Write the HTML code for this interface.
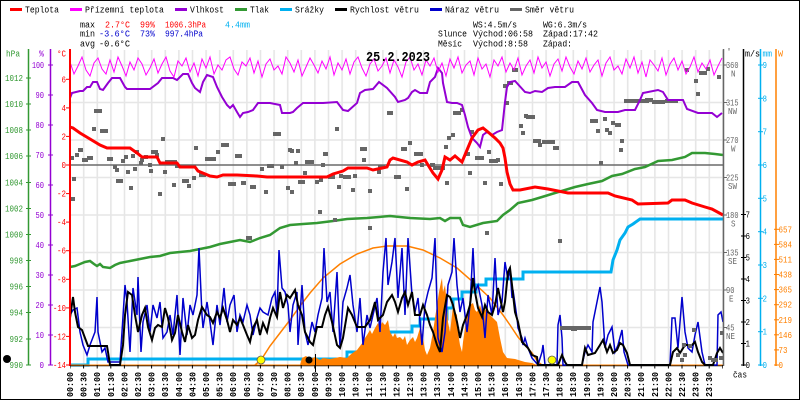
<!DOCTYPE html>
<html><head><meta charset="utf-8">
<style>
html,body{margin:0;padding:0;background:#fff;}
svg{display:block;}
text{font-family:"Liberation Mono",monospace;font-size:9px;}
.b{font-weight:bold;}
</style></head><body>
<svg width="800" height="400" viewBox="0 0 800 400" xmlns="http://www.w3.org/2000/svg">
<defs>
<pattern id="vg" x="69.3" y="0" width="13.6" height="400" patternUnits="userSpaceOnUse"><rect x="0" y="0" width="1.6" height="400" fill="#e6e6e6"/></pattern>
<pattern id="xt" x="69.5" y="0" width="13.6" height="400" patternUnits="userSpaceOnUse"><rect x="0" y="0" width="1" height="400" fill="#000"/></pattern>
</defs>
<rect x="0" y="0" width="800" height="400" fill="#fff"/>
<rect x="0.5" y="0.5" width="799" height="399" fill="none" stroke="#000" stroke-width="1"/>

<!-- legend -->
<rect x="10" y="8" width="12" height="3" fill="#ff0000"/><text x="25" y="12.5" textLength="34" lengthAdjust="spacingAndGlyphs">Teplota</text>
<rect x="70" y="8" width="12" height="3" fill="#ff00ff"/><text x="85" y="12.5" textLength="79" lengthAdjust="spacingAndGlyphs">Přízemní teplota</text>
<rect x="175" y="8" width="12" height="3" fill="#9400d3"/><text x="190" y="12.5" textLength="34" lengthAdjust="spacingAndGlyphs">Vlhkost</text>
<rect x="235" y="8" width="12" height="3" fill="#339933"/><text x="250" y="12.5" textLength="19" lengthAdjust="spacingAndGlyphs">Tlak</text>
<rect x="280" y="8" width="12" height="3" fill="#00b0f0"/><text x="295" y="12.5" textLength="29" lengthAdjust="spacingAndGlyphs">Srážky</text>
<rect x="335" y="8" width="12" height="3" fill="#000"/><text x="350" y="12.5" textLength="69" lengthAdjust="spacingAndGlyphs">Rychlost větru</text>
<rect x="430" y="8" width="12" height="3" fill="#0000cc"/><text x="445" y="12.5" textLength="54" lengthAdjust="spacingAndGlyphs">Náraz větru</text>
<rect x="510" y="8" width="12" height="3" fill="#666"/><text x="525" y="12.5" textLength="49" lengthAdjust="spacingAndGlyphs">Směr větru</text>

<!-- stats -->
<text x="80" y="27.3" textLength="15" lengthAdjust="spacingAndGlyphs">max</text>
<text x="105" y="27.3" fill="#ff0000" textLength="25" lengthAdjust="spacingAndGlyphs">2.7°C</text>
<text x="140" y="27.3" fill="#ff0000" textLength="15" lengthAdjust="spacingAndGlyphs">99%</text>
<text x="165" y="27.3" fill="#ff0000" textLength="41" lengthAdjust="spacingAndGlyphs">1006.3hPa</text>
<text x="225" y="27.3" fill="#00b0f0" textLength="25" lengthAdjust="spacingAndGlyphs">4.4mm</text>
<text x="80" y="36.7" textLength="15" lengthAdjust="spacingAndGlyphs">min</text>
<text x="99" y="36.7" fill="#0000cc" textLength="31" lengthAdjust="spacingAndGlyphs">-3.6°C</text>
<text x="140" y="36.7" fill="#0000cc" textLength="15" lengthAdjust="spacingAndGlyphs">73%</text>
<text x="165" y="36.7" fill="#0000cc" textLength="38" lengthAdjust="spacingAndGlyphs">997.4hPa</text>
<text x="80" y="46.5" textLength="15" lengthAdjust="spacingAndGlyphs">avg</text>
<text x="99" y="46.5" textLength="31" lengthAdjust="spacingAndGlyphs">-0.6°C</text>

<text x="473" y="27.3" textLength="44" lengthAdjust="spacingAndGlyphs">WS:4.5m/s</text>
<text x="543" y="27.3" textLength="44" lengthAdjust="spacingAndGlyphs">WG:6.3m/s</text>
<text x="438" y="36.7" textLength="29" lengthAdjust="spacingAndGlyphs">Slunce</text>
<text x="473" y="36.7" textLength="60" lengthAdjust="spacingAndGlyphs">Východ:06:58</text>
<text x="543" y="36.7" textLength="55" lengthAdjust="spacingAndGlyphs">Západ:17:42</text>
<text x="438" y="46.5" textLength="24" lengthAdjust="spacingAndGlyphs">Měsíc</text>
<text x="473" y="46.5" textLength="55" lengthAdjust="spacingAndGlyphs">Východ:8:58</text>
<text x="543" y="46.5" textLength="29" lengthAdjust="spacingAndGlyphs">Západ:</text>

<!-- grid -->
<rect x="71" y="50" width="652" height="315" fill="url(#vg)"/>
<g stroke="#e6e6e6" stroke-width="1.6">
<line x1="70" y1="65" x2="723" y2="65"/>
<line x1="70" y1="102.5" x2="723" y2="102.5"/>
<line x1="70" y1="140" x2="723" y2="140"/>
<line x1="70" y1="177.5" x2="723" y2="177.5"/>
<line x1="70" y1="215" x2="723" y2="215"/>
<line x1="70" y1="252.5" x2="723" y2="252.5"/>
<line x1="70" y1="290" x2="723" y2="290"/>
<line x1="70" y1="327.5" x2="723" y2="327.5"/>
</g>
<line x1="70" y1="165" x2="723" y2="165" stroke="#6a6a6a" stroke-width="1.5"/>

<!-- theoretical radiation -->
<polyline fill="none" stroke="#ff8000" stroke-width="1.5" points="255,365 261,360 270,346 280,333 290,320 300,306 310,293 323,278 340,264 357,254 373,248 387,246 407,246 423,250 440,258 457,268 473,282 490,298 503,315 510,325 518,337 525,345 532,353 538,362 542,365"/>

<!-- precipitation -->
<polyline fill="none" stroke="#00b0f0" stroke-width="3" points="70,365 88,365 88,359 347,359 347,352 368,352 368,346 378,346 378,339 390,339 390,332 412,332 412,326 420,326 420,319 447,319 447,308 453,308 453,299 462,299 462,292 476,292 476,285 486,285 486,279 523,279 523,272 611,272 613,260 617,250 620,240 625,233 628,227 633,224 640,219 723,219"/>

<!-- radiation fill -->
<polygon fill="#ff8000" points="290,365 300,365 302,358 306,356 310,359 315,357 320,360 323,358 330,359 340,357 347,358 350,355 354,352 357,350 360,346 363,342 365,338 367,335 370,330 372,334 375,328 378,323 380,327 382,322 385,325 388,320 390,332 393,337 395,333 397,338 400,337 403,340 405,336 407,345 410,340 413,337 415,342 417,338 420,328 423,338 425,350 427,355 430,348 433,332 435,318 437,305 439,292 441,282 442,278 443,292 445,285 447,305 448,322 450,332 452,315 453,305 455,312 457,315 458,332 460,345 462,352 463,342 465,328 467,315 470,305 473,303 475,310 477,312 480,305 483,315 485,310 487,308 490,315 493,318 497,322 500,338 503,352 507,358 515,359 525,362 532,363 537,365"/>

<!-- pressure -->
<polyline fill="none" stroke="#339933" stroke-width="2.5" points="70,267 75,266 80,264 85,262 90,261 94,264 97,266 100,264 103,267 110,268 115,265 120,263 130,261 140,259 150,257 160,256 170,253 180,252 190,251 200,249 210,247 220,244 230,242 240,240 245,241 250,242 255,240 260,238 270,235 280,228 290,225 303,224 317,223 333,221 347,219 367,218 390,216 410,218 430,219 440,218 445,221 450,218 460,218 463,225 470,227 483,223 497,221 503,215 510,210 518,203 532,200 542,197 555,193 565,190 575,187 588,184 602,181 612,176 622,174 635,169 645,167 658,161 672,160 685,157 692,153 705,153 715,154 723,155"/>

<!-- wind speed baseline / axis -->
<line x1="70" y1="365.5" x2="723" y2="365.5" stroke="#000" stroke-width="1.5"/>
<line x1="70" y1="365" x2="723" y2="365" stroke="#ff8000" stroke-width="1"/>

<!-- gusts -->
<polyline fill="none" stroke="#0000cc" stroke-width="1.5" points="70,315 73,310 77,308 80,332 83,345 87,355 90,345 95,332 97,297 98,332 102,352 105,348 108,362 120,362 122,332 125,285 127,302 130,352 133,288 137,315 138,277 141,352 143,322 147,305 150,332 153,305 157,318 160,302 163,338 167,332 170,315 173,335 177,295 180,355 183,298 187,335 190,305 193,315 197,295 199,248 202,315 203,328 207,302 210,322 213,345 217,305 220,325 224,288 227,322 230,305 234,295 237,332 240,315 243,322 247,305 250,315 253,335 257,318 260,308 263,312 268,315 272,298 275,292 277,315 279,250 282,288 285,292 288,305 290,332 293,305 297,292 298,345 302,285 305,332 308,345 312,322 315,332 318,315 322,298 324,248 327,302 330,292 333,332 337,272 340,348 343,302 347,288 350,275 353,305 357,332 360,298 363,345 367,315 370,328 373,315 377,298 380,332 383,272 386,238 388,285 392,262 395,238 398,298 402,248 405,315 408,238 412,295 415,312 418,298 422,345 425,305 428,292 432,278 435,238 438,338 442,352 445,332 448,285 452,272 454,238 457,285 460,312 463,298 467,332 470,305 473,248 475,292 478,285 482,305 485,338 488,295 492,315 495,258 498,315 502,302 505,262 508,280 510,268 512,298 513,290 517,318 518,328 522,338 523,345 525,338 528,348 532,358 538,365 542,352 543,345 545,365 557,365 558,325 560,315 562,338 563,365 582,365 585,352 588,345 592,352 593,322 597,302 600,287 602,302 605,348 608,335 612,327 615,352 618,345 622,330 624,352 628,365 670,365 672,318 675,318 678,348 682,297 685,332 688,348 692,352 695,335 698,322 702,352 705,365 717,365 718,315 721,312 723,322"/>

<!-- wind speed -->
<polyline fill="none" stroke="#000" stroke-width="2" points="70,318 73,297 75,312 78,327 82,330 85,338 88,346 107,346 108,352 110,365 120,365 123,345 125,315 128,292 132,295 135,315 138,332 142,315 145,308 148,327 152,340 155,328 158,325 162,327 165,308 168,318 172,340 175,333 178,315 182,332 185,342 188,325 192,338 195,335 198,320 202,307 207,315 210,317 213,323 217,312 220,318 223,308 227,320 230,332 233,320 237,325 240,318 243,325 247,335 250,342 253,328 257,320 260,335 263,323 267,332 270,318 273,308 277,317 280,292 283,308 287,295 290,298 295,290 298,305 302,315 305,332 310,342 313,345 317,327 322,327 325,315 328,307 332,322 337,345 340,348 343,338 348,308 352,315 357,327 365,327 370,320 375,302 378,320 383,315 387,302 392,295 395,302 398,312 402,298 405,292 408,305 412,292 415,315 420,315 423,305 427,315 430,325 433,332 437,345 440,352 443,318 447,295 450,297 453,305 457,322 460,338 463,325 467,315 470,305 473,278 475,292 478,308 482,317 485,305 488,312 492,315 495,305 498,288 503,312 505,302 508,272 510,268 512,285 515,312 518,322 522,342 525,345 528,348 532,355 537,357 538,365 558,365 562,355 565,362 567,365 582,365 585,348 588,355 595,353 600,345 603,340 607,352 610,345 613,353 617,350 620,343 623,345 627,353 630,365 670,365 673,352 677,348 680,353 685,345 692,345 695,342 698,352 702,362 705,365 713,365 717,353 720,348 723,353"/>

<!-- wind direction -->
<g fill="#666">
<rect x="70" y="156" width="4" height="4"/><rect x="72" y="177" width="4" height="4"/><rect x="71" y="197" width="4" height="4"/><rect x="75" y="153" width="4" height="4"/><rect x="78" y="148" width="5" height="4"/><rect x="82" y="158" width="6" height="4"/><rect x="87" y="156" width="6" height="4"/><rect x="92" y="127" width="4" height="4"/><rect x="94" y="109" width="8" height="4"/><rect x="100" y="129" width="8" height="4"/><rect x="107" y="157" width="6" height="4"/><rect x="113" y="165" width="4" height="4"/><rect x="115" y="168" width="4" height="4"/><rect x="116" y="179" width="7" height="4"/><rect x="121" y="159" width="4" height="4"/><rect x="124" y="155" width="4" height="4"/><rect x="126" y="170" width="4" height="4"/><rect x="129" y="186" width="4" height="4"/><rect x="131" y="154" width="4" height="4"/><rect x="133" y="167" width="4" height="4"/><rect x="135" y="150" width="4" height="4"/><rect x="139" y="161" width="4" height="4"/><rect x="140" y="158" width="4" height="4"/><rect x="144" y="155" width="4" height="4"/><rect x="148" y="163" width="4" height="4"/><rect x="149" y="169" width="4" height="4"/><rect x="151" y="150" width="7" height="4"/><rect x="155" y="153" width="4" height="4"/><rect x="158" y="192" width="4" height="4"/><rect x="161" y="137" width="4" height="4"/><rect x="163" y="170" width="4" height="4"/><rect x="165" y="160" width="6" height="4"/><rect x="171" y="160" width="6" height="4"/><rect x="172" y="183" width="4" height="4"/><rect x="175" y="164" width="4" height="4"/><rect x="182" y="179" width="7" height="4"/><rect x="187" y="184" width="4" height="4"/><rect x="192" y="176" width="4" height="4"/><rect x="194" y="146" width="4" height="4"/><rect x="199" y="173" width="7" height="4"/><rect x="205" y="157" width="11" height="4"/><rect x="216" y="150" width="4" height="4"/><rect x="221" y="143" width="8" height="4"/><rect x="228" y="182" width="8" height="4"/><rect x="235" y="154" width="7" height="4"/><rect x="241" y="181" width="5" height="4"/><rect x="250" y="185" width="6" height="4"/><rect x="260" y="167" width="4" height="4"/><rect x="264" y="190" width="4" height="4"/><rect x="267" y="164" width="7" height="4"/><rect x="273" y="132" width="8" height="4"/><rect x="280" y="165" width="4" height="4"/><rect x="286" y="186" width="4" height="4"/><rect x="288" y="148" width="4" height="4"/>
<rect x="387" y="111" width="6" height="4"/><rect x="335" y="127" width="4" height="4"/><rect x="290" y="149" width="4" height="4"/><rect x="296" y="149" width="4" height="4"/><rect x="305" y="160" width="9" height="4"/><rect x="323" y="152" width="5" height="4"/><rect x="321" y="163" width="4" height="4"/><rect x="294" y="161" width="4" height="4"/><rect x="303" y="171" width="4" height="4"/><rect x="298" y="180" width="7" height="4"/><rect x="290" y="190" width="4" height="4"/><rect x="315" y="180" width="4" height="4"/><rect x="319" y="178" width="4" height="4"/><rect x="328" y="175" width="7" height="4"/><rect x="337" y="185" width="4" height="4"/><rect x="339" y="174" width="4" height="4"/><rect x="343" y="175" width="8" height="4"/><rect x="353" y="174" width="4" height="4"/><rect x="351" y="188" width="4" height="4"/><rect x="360" y="147" width="7" height="4"/><rect x="362" y="158" width="4" height="4"/><rect x="368" y="189" width="4" height="4"/><rect x="377" y="170" width="4" height="4"/><rect x="378" y="165" width="7" height="4"/><rect x="394" y="175" width="7" height="4"/><rect x="401" y="147" width="6" height="4"/><rect x="408" y="141" width="4" height="4"/><rect x="414" y="152" width="9" height="4"/><rect x="420" y="163" width="4" height="4"/><rect x="405" y="187" width="4" height="4"/><rect x="430" y="163" width="5" height="4"/><rect x="433" y="166" width="12" height="4"/><rect x="444" y="145" width="4" height="4"/><rect x="445" y="181" width="4" height="4"/><rect x="447" y="136" width="4" height="4"/><rect x="451" y="133" width="4" height="4"/><rect x="453" y="111" width="8" height="4"/><rect x="460" y="108" width="4" height="4"/><rect x="466" y="152" width="4" height="4"/><rect x="468" y="171" width="4" height="4"/><rect x="470" y="130" width="4" height="4"/><rect x="475" y="156" width="9" height="4"/><rect x="487" y="150" width="4" height="4"/><rect x="489" y="159" width="9" height="4"/><rect x="496" y="158" width="4" height="4"/><rect x="499" y="182" width="4" height="4"/><rect x="483" y="181" width="4" height="4"/><rect x="503" y="84" width="4" height="4"/><rect x="507" y="81" width="4" height="4"/><rect x="505" y="101" width="4" height="4"/>
<rect x="512" y="68" width="6" height="4"/><rect x="508" y="81" width="5" height="4"/><rect x="524" y="114" width="4" height="4"/><rect x="526" y="115" width="9" height="4"/><rect x="519" y="124" width="4" height="4"/><rect x="521" y="131" width="4" height="4"/><rect x="533" y="139" width="8" height="4"/><rect x="538" y="143" width="4" height="4"/><rect x="542" y="140" width="13" height="4"/><rect x="553" y="146" width="6" height="4"/><rect x="590" y="119" width="8" height="4"/><rect x="596" y="129" width="4" height="4"/><rect x="603" y="117" width="4" height="4"/><rect x="605" y="128" width="4" height="4"/><rect x="608" y="131" width="4" height="4"/><rect x="611" y="121" width="4" height="4"/><rect x="615" y="123" width="6" height="4"/><rect x="620" y="139" width="4" height="4"/><rect x="619" y="148" width="4" height="4"/><rect x="599" y="161" width="4" height="4"/><rect x="624" y="99" width="14" height="4"/><rect x="637" y="99" width="12" height="4"/><rect x="645" y="98" width="8" height="4"/><rect x="652" y="100" width="13" height="4"/><rect x="665" y="99" width="13" height="4"/><rect x="685" y="68" width="4" height="4"/><rect x="694" y="79" width="4" height="4"/><rect x="696" y="92" width="4" height="4"/><rect x="699" y="71" width="5" height="4"/><rect x="706" y="67" width="4" height="4"/><rect x="703" y="71" width="4" height="4"/><rect x="717" y="75" width="4" height="4"/>
<rect x="246" y="236" width="6" height="4"/><rect x="318" y="210" width="4" height="4"/><rect x="333" y="218" width="4" height="4"/><rect x="368" y="226" width="4" height="4"/><rect x="485" y="231" width="4" height="4"/><rect x="558" y="239" width="4" height="4"/><rect x="560" y="326" width="31" height="4"/><rect x="571" y="327" width="6" height="4"/><rect x="676" y="353" width="4" height="4"/><rect x="680" y="358" width="4" height="4"/><rect x="682" y="343" width="4" height="4"/><rect x="688" y="344" width="4" height="4"/><rect x="692" y="328" width="4" height="4"/><rect x="683" y="353" width="4" height="4"/><rect x="708" y="356" width="4" height="4"/><rect x="711" y="358" width="7" height="4"/><rect x="720" y="331" width="4" height="4"/><rect x="719" y="356" width="4" height="4"/>
</g>

<!-- humidity -->
<polyline fill="none" stroke="#9400d3" stroke-width="2" points="70,98 72,93 80,91 83,91 87,87 90,87 93,82 97,82 100,89 103,90 108,83 112,78 120,78 125,87 127,89 150,89 158,83 162,78 173,78 177,80 183,74 188,74 192,83 195,88 200,92 203,82 207,75 213,77 217,87 222,97 227,105 230,108 233,105 237,112 240,117 243,113 248,112 253,110 258,103 270,103 280,105 282,113 290,113 293,112 297,108 303,103 313,103 323,103 337,102 343,110 348,111 357,103 360,93 365,90 373,89 379,82 387,88 395,97 398,102 405,100 408,98 412,92 415,90 420,93 427,93 430,82 435,77 438,68 442,73 443,83 447,102 452,103 457,103 462,105 465,115 468,127 472,138 477,143 480,147 483,135 487,132 492,135 497,132 502,130 505,102 507,87 510,82 515,81 525,92 530,93 535,91 542,92 548,88 555,87 565,87 572,82 578,82 585,95 592,103 597,110 605,112 618,112 625,110 635,110 640,100 643,93 658,90 663,92 668,100 683,100 687,109 698,113 712,113 717,117 722,113"/>

<!-- ground temperature -->
<polyline fill="none" stroke="#ff00ff" stroke-width="1" points="70,62 74,74 78,66 82,57 86,70 90,76 94,63 98,58 102,69 106,74 110,60 114,72 118,57 122,66 126,76 130,62 134,70 138,58 142,64 146,75 150,68 154,59 158,73 162,64 166,57 170,71 174,77 178,61 182,66 186,58 190,72 194,63 198,76 202,59 206,68 210,57 214,74 218,65 222,70 226,60 230,57 234,69 238,75 242,62 246,66 250,58 254,73 258,61 262,77 266,64 270,59 274,70 278,66 282,74 286,57 290,63 294,72 298,60 302,76 306,67 310,58 314,65 318,73 322,61 326,69 330,57 334,75 338,63 342,70 346,59 350,74 354,62 358,57 362,68 366,76 370,64 374,59 378,71 382,66 386,58 390,73 394,60 398,67 402,77 406,62 410,57 414,70 418,64 422,75 426,60 430,66 434,58 438,72 442,63 446,76 450,59 454,68 458,57 462,73 466,65 470,61 474,75 478,58 482,69 486,64 490,77 494,60 498,66 502,57 506,72 510,63 514,70 518,58 522,75 526,66 530,60 534,73 538,57 542,68 546,62 550,76 554,64 558,59 562,71 566,57 570,67 574,74 578,61 582,69 586,58 590,72 594,65 598,60 602,76 606,63 610,57 614,70 618,66 622,74 626,59 630,68 634,57 638,73 642,62 646,77 650,60 654,65 658,71 662,58 666,75 670,64 674,58 678,70 682,61 686,74 690,67 694,57 698,72 702,63 706,69 710,60 714,75 718,66 722,58"/>

<!-- temperature -->
<polyline fill="none" stroke="#ff0000" stroke-width="3" points="70,127 73,128 80,133 90,139 100,145 107,148 130,148 137,153 142,157 157,157 160,163 177,163 180,167 195,167 198,171 210,176 217,177 223,175 237,175 257,176 267,177 290,177 327,177 333,174 343,171 348,168 367,168 373,170 387,167 390,160 393,158 407,162 412,165 418,162 425,160 428,165 433,173 438,179 442,170 445,157 450,160 455,156 462,162 467,150 472,138 478,130 483,128 488,132 495,138 500,143 503,148 505,158 507,172 510,184 513,190 520,190 535,187 548,189 568,193 608,193 615,196 632,200 638,204 668,203 672,200 685,200 692,203 705,207 712,209 723,215"/>

<!-- sun / moon markers -->
<circle cx="7" cy="359" r="4" fill="#000"/>
<circle cx="261" cy="360" r="4" fill="#ffff00" stroke="#555" stroke-width="0.8"/>
<circle cx="552" cy="360" r="4" fill="#ffff00" stroke="#555" stroke-width="0.8"/>
<circle cx="309" cy="360" r="3.5" fill="#000"/>
<line x1="315.5" y1="354" x2="315.5" y2="372" stroke="#000" stroke-width="1"/>

<!-- title -->
<text x="366" y="61" class="b" font-size="13.5" style="font-size:13.5px" textLength="64" lengthAdjust="spacingAndGlyphs">25.2.2023</text>

<!-- left axes -->
<line x1="28.5" y1="49" x2="28.5" y2="365" stroke="#339933" stroke-width="1.5"/>
<line x1="50.5" y1="49" x2="50.5" y2="365" stroke="#9400d3" stroke-width="1.5"/>
<line x1="70" y1="49" x2="70" y2="366" stroke="#ff0000" stroke-width="2"/>
<text x="6" y="56.5" fill="#339933" textLength="14" lengthAdjust="spacingAndGlyphs">hPa</text>
<text x="39" y="56.5" fill="#9400d3" textLength="5" lengthAdjust="spacingAndGlyphs">%</text>
<text x="57" y="56.5" fill="#ff0000" textLength="9" lengthAdjust="spacingAndGlyphs">°C</text>

<g stroke="#339933" stroke-width="1">
<line x1="26" y1="78" x2="31" y2="78"/><line x1="26" y1="104" x2="31" y2="104"/><line x1="26" y1="130" x2="31" y2="130"/><line x1="26" y1="156" x2="31" y2="156"/><line x1="26" y1="182.5" x2="31" y2="182.5"/><line x1="26" y1="208.5" x2="31" y2="208.5"/><line x1="26" y1="234.5" x2="31" y2="234.5"/><line x1="26" y1="260.5" x2="31" y2="260.5"/><line x1="26" y1="286.5" x2="31" y2="286.5"/><line x1="26" y1="312.5" x2="31" y2="312.5"/><line x1="26" y1="339" x2="31" y2="339"/><line x1="26" y1="365" x2="31" y2="365"/>
</g>
<g fill="#339933" text-anchor="end">
<text x="23" y="81" textLength="18" lengthAdjust="spacingAndGlyphs">1012</text>
<text x="23" y="107" textLength="18" lengthAdjust="spacingAndGlyphs">1010</text>
<text x="23" y="133" textLength="18" lengthAdjust="spacingAndGlyphs">1008</text>
<text x="23" y="159" textLength="18" lengthAdjust="spacingAndGlyphs">1006</text>
<text x="23" y="185.5" textLength="18" lengthAdjust="spacingAndGlyphs">1004</text>
<text x="23" y="211.5" textLength="18" lengthAdjust="spacingAndGlyphs">1002</text>
<text x="23" y="237.5" textLength="18" lengthAdjust="spacingAndGlyphs">1000</text>
<text x="23" y="263.5" textLength="13.5" lengthAdjust="spacingAndGlyphs">998</text>
<text x="23" y="289.5" textLength="13.5" lengthAdjust="spacingAndGlyphs">996</text>
<text x="23" y="315.5" textLength="13.5" lengthAdjust="spacingAndGlyphs">994</text>
<text x="23" y="342" textLength="13.5" lengthAdjust="spacingAndGlyphs">992</text>
<text x="23" y="368" textLength="13.5" lengthAdjust="spacingAndGlyphs">990</text>
</g>

<g stroke="#9400d3" stroke-width="1">
<line x1="48" y1="65" x2="53" y2="65"/><line x1="48" y1="95" x2="53" y2="95"/><line x1="48" y1="125" x2="53" y2="125"/><line x1="48" y1="155" x2="53" y2="155"/><line x1="48" y1="185" x2="53" y2="185"/><line x1="48" y1="215" x2="53" y2="215"/><line x1="48" y1="245" x2="53" y2="245"/><line x1="48" y1="275" x2="53" y2="275"/><line x1="48" y1="305" x2="53" y2="305"/><line x1="48" y1="335" x2="53" y2="335"/><line x1="48" y1="365" x2="53" y2="365"/>
</g>
<g fill="#9400d3" text-anchor="end">
<text x="44" y="68" textLength="12" lengthAdjust="spacingAndGlyphs">100</text>
<text x="44" y="98" textLength="8.5" lengthAdjust="spacingAndGlyphs">90</text>
<text x="44" y="128" textLength="8.5" lengthAdjust="spacingAndGlyphs">80</text>
<text x="44" y="158" textLength="8.5" lengthAdjust="spacingAndGlyphs">70</text>
<text x="44" y="188" textLength="8.5" lengthAdjust="spacingAndGlyphs">60</text>
<text x="44" y="218" textLength="8.5" lengthAdjust="spacingAndGlyphs">50</text>
<text x="44" y="248" textLength="8.5" lengthAdjust="spacingAndGlyphs">40</text>
<text x="44" y="278" textLength="8.5" lengthAdjust="spacingAndGlyphs">30</text>
<text x="44" y="308" textLength="8.5" lengthAdjust="spacingAndGlyphs">20</text>
<text x="44" y="338" textLength="8.5" lengthAdjust="spacingAndGlyphs">10</text>
<text x="44" y="368" textLength="4.5" lengthAdjust="spacingAndGlyphs">0</text>
</g>

<g stroke="#ff0000" stroke-width="1">
<line x1="66" y1="79.3" x2="70" y2="79.3"/><line x1="66" y1="107.9" x2="70" y2="107.9"/><line x1="66" y1="136.4" x2="70" y2="136.4"/><line x1="66" y1="165" x2="70" y2="165"/><line x1="66" y1="193.6" x2="70" y2="193.6"/><line x1="66" y1="222.1" x2="70" y2="222.1"/><line x1="66" y1="250.7" x2="70" y2="250.7"/><line x1="66" y1="279.3" x2="70" y2="279.3"/><line x1="66" y1="307.9" x2="70" y2="307.9"/><line x1="66" y1="336.4" x2="70" y2="336.4"/><line x1="66" y1="365" x2="70" y2="365"/>
</g>
<g fill="#ff0000" text-anchor="end">
<text x="66" y="82.3" textLength="4.5" lengthAdjust="spacingAndGlyphs">6</text>
<text x="66" y="110.9" textLength="4.5" lengthAdjust="spacingAndGlyphs">4</text>
<text x="66" y="139.4" textLength="4.5" lengthAdjust="spacingAndGlyphs">2</text>
<text x="66" y="168" textLength="4.5" lengthAdjust="spacingAndGlyphs">0</text>
<text x="66" y="196.6" textLength="9" lengthAdjust="spacingAndGlyphs">-2</text>
<text x="66" y="225.1" textLength="9" lengthAdjust="spacingAndGlyphs">-4</text>
<text x="66" y="253.7" textLength="9" lengthAdjust="spacingAndGlyphs">-6</text>
<text x="66" y="282.3" textLength="9" lengthAdjust="spacingAndGlyphs">-8</text>
<text x="66" y="310.9" textLength="13" lengthAdjust="spacingAndGlyphs">-10</text>
<text x="66" y="339.4" textLength="13" lengthAdjust="spacingAndGlyphs">-12</text>
<text x="66" y="368" textLength="13" lengthAdjust="spacingAndGlyphs">-14</text>
</g>

<!-- right axes -->
<line x1="723.5" y1="49" x2="723.5" y2="366" stroke="#666" stroke-width="1.5"/>
<line x1="743.5" y1="49" x2="743.5" y2="366" stroke="#000" stroke-width="1.5"/>
<line x1="760.5" y1="49" x2="760.5" y2="366" stroke="#00b0f0" stroke-width="1.5"/>
<line x1="776" y1="49" x2="776" y2="366" stroke="#ff8000" stroke-width="1.5"/>
<text x="727" y="54" fill="#666" textLength="4" lengthAdjust="spacingAndGlyphs">°</text>
<text x="745" y="56.5" fill="#000" textLength="15" lengthAdjust="spacingAndGlyphs">m/s</text>
<text x="762.5" y="56.5" fill="#00b0f0" textLength="9.5" lengthAdjust="spacingAndGlyphs">mm</text>
<text x="778" y="56.5" fill="#ff8000" textLength="5" lengthAdjust="spacingAndGlyphs">W</text>

<g stroke="#666" stroke-width="1">
<line x1="723" y1="65" x2="727" y2="65"/><line x1="723" y1="102.5" x2="727" y2="102.5"/><line x1="723" y1="140" x2="727" y2="140"/><line x1="723" y1="177.5" x2="727" y2="177.5"/><line x1="723" y1="215" x2="727" y2="215"/><line x1="723" y1="252.5" x2="727" y2="252.5"/><line x1="723" y1="290" x2="727" y2="290"/><line x1="723" y1="327.5" x2="727" y2="327.5"/>
</g>
<g fill="#666">
<text x="726" y="68" textLength="12.5" lengthAdjust="spacingAndGlyphs">360</text><text x="731" y="76.5" textLength="4.5" lengthAdjust="spacingAndGlyphs">N</text>
<text x="726" y="105.5" textLength="12.5" lengthAdjust="spacingAndGlyphs">315</text><text x="728" y="114" textLength="9" lengthAdjust="spacingAndGlyphs">NW</text>
<text x="726" y="143" textLength="12.5" lengthAdjust="spacingAndGlyphs">270</text><text x="731" y="151.5" textLength="4.5" lengthAdjust="spacingAndGlyphs">W</text>
<text x="726" y="180.5" textLength="12.5" lengthAdjust="spacingAndGlyphs">225</text><text x="728" y="189" textLength="9" lengthAdjust="spacingAndGlyphs">SW</text>
<text x="726" y="218" textLength="12.5" lengthAdjust="spacingAndGlyphs">180</text><text x="731" y="226.5" textLength="4.5" lengthAdjust="spacingAndGlyphs">S</text>
<text x="726" y="255.5" textLength="12.5" lengthAdjust="spacingAndGlyphs">135</text><text x="728" y="264" textLength="9" lengthAdjust="spacingAndGlyphs">SE</text>
<text x="726" y="293" textLength="8.5" lengthAdjust="spacingAndGlyphs">90</text><text x="729" y="301.5" textLength="4.5" lengthAdjust="spacingAndGlyphs">E</text>
<text x="726" y="330.5" textLength="8.5" lengthAdjust="spacingAndGlyphs">45</text><text x="726" y="339" textLength="9" lengthAdjust="spacingAndGlyphs">NE</text>
</g>

<g stroke="#000" stroke-width="1">
<line x1="741" y1="214.5" x2="746" y2="214.5"/><line x1="741" y1="236" x2="746" y2="236"/><line x1="741" y1="257.5" x2="746" y2="257.5"/><line x1="741" y1="279" x2="746" y2="279"/><line x1="741" y1="300.5" x2="746" y2="300.5"/><line x1="741" y1="322" x2="746" y2="322"/><line x1="741" y1="343.5" x2="746" y2="343.5"/><line x1="741" y1="365" x2="746" y2="365"/>
</g>
<g fill="#000">
<text x="745.5" y="217.5" textLength="4.5" lengthAdjust="spacingAndGlyphs">7</text>
<text x="745.5" y="239" textLength="4.5" lengthAdjust="spacingAndGlyphs">6</text>
<text x="745.5" y="260.5" textLength="4.5" lengthAdjust="spacingAndGlyphs">5</text>
<text x="745.5" y="282" textLength="4.5" lengthAdjust="spacingAndGlyphs">4</text>
<text x="745.5" y="303.5" textLength="4.5" lengthAdjust="spacingAndGlyphs">3</text>
<text x="745.5" y="325" textLength="4.5" lengthAdjust="spacingAndGlyphs">2</text>
<text x="745.5" y="346.5" textLength="4.5" lengthAdjust="spacingAndGlyphs">1</text>
<text x="745.5" y="368" textLength="4.5" lengthAdjust="spacingAndGlyphs">0</text>
</g>

<g stroke="#00b0f0" stroke-width="1">
<line x1="758" y1="65" x2="763" y2="65"/><line x1="758" y1="98.3" x2="763" y2="98.3"/><line x1="758" y1="131.7" x2="763" y2="131.7"/><line x1="758" y1="165" x2="763" y2="165"/><line x1="758" y1="198.3" x2="763" y2="198.3"/><line x1="758" y1="231.7" x2="763" y2="231.7"/><line x1="758" y1="265" x2="763" y2="265"/><line x1="758" y1="298.3" x2="763" y2="298.3"/><line x1="758" y1="331.7" x2="763" y2="331.7"/><line x1="758" y1="365" x2="763" y2="365"/>
</g>
<g fill="#00b0f0">
<text x="762.5" y="68" textLength="4.5" lengthAdjust="spacingAndGlyphs">9</text>
<text x="762.5" y="101.3" textLength="4.5" lengthAdjust="spacingAndGlyphs">8</text>
<text x="762.5" y="134.7" textLength="4.5" lengthAdjust="spacingAndGlyphs">7</text>
<text x="762.5" y="168" textLength="4.5" lengthAdjust="spacingAndGlyphs">6</text>
<text x="762.5" y="201.3" textLength="4.5" lengthAdjust="spacingAndGlyphs">5</text>
<text x="762.5" y="234.7" textLength="4.5" lengthAdjust="spacingAndGlyphs">4</text>
<text x="762.5" y="268" textLength="4.5" lengthAdjust="spacingAndGlyphs">3</text>
<text x="762.5" y="301.3" textLength="4.5" lengthAdjust="spacingAndGlyphs">2</text>
<text x="762.5" y="334.7" textLength="4.5" lengthAdjust="spacingAndGlyphs">1</text>
<text x="762.5" y="368" textLength="4.5" lengthAdjust="spacingAndGlyphs">0</text>
</g>

<g stroke="#ff8000" stroke-width="1">
<line x1="774" y1="229.3" x2="779" y2="229.3"/><line x1="774" y1="244.4" x2="779" y2="244.4"/><line x1="774" y1="259.4" x2="779" y2="259.4"/><line x1="774" y1="274.5" x2="779" y2="274.5"/><line x1="774" y1="289.6" x2="779" y2="289.6"/><line x1="774" y1="304.7" x2="779" y2="304.7"/><line x1="774" y1="319.8" x2="779" y2="319.8"/><line x1="774" y1="334.8" x2="779" y2="334.8"/><line x1="774" y1="349.9" x2="779" y2="349.9"/><line x1="774" y1="365" x2="779" y2="365"/>
</g>
<g fill="#ff8000">
<text x="778.5" y="232.3" textLength="13.5" lengthAdjust="spacingAndGlyphs">657</text>
<text x="778.5" y="247.4" textLength="13.5" lengthAdjust="spacingAndGlyphs">584</text>
<text x="778.5" y="262.4" textLength="13.5" lengthAdjust="spacingAndGlyphs">511</text>
<text x="778.5" y="277.5" textLength="13.5" lengthAdjust="spacingAndGlyphs">438</text>
<text x="778.5" y="292.6" textLength="13.5" lengthAdjust="spacingAndGlyphs">365</text>
<text x="778.5" y="307.7" textLength="13.5" lengthAdjust="spacingAndGlyphs">292</text>
<text x="778.5" y="322.8" textLength="13.5" lengthAdjust="spacingAndGlyphs">219</text>
<text x="778.5" y="337.8" textLength="13.5" lengthAdjust="spacingAndGlyphs">146</text>
<text x="778.5" y="352.9" textLength="9" lengthAdjust="spacingAndGlyphs">73</text>
<text x="778.5" y="368" textLength="4.5" lengthAdjust="spacingAndGlyphs">0</text>
</g>

<!-- x axis ticks -->
<rect x="70" y="365" width="653" height="3.5" fill="url(#xt)"/>
<text x="733" y="377.5" textLength="14" lengthAdjust="spacingAndGlyphs">čas</text>

<!-- x labels -->
<g class="b" fill="#000">
<text transform="translate(73,397) rotate(-90)" textLength="25" lengthAdjust="spacingAndGlyphs">00:00</text>
<text transform="translate(86.6,397) rotate(-90)" textLength="25" lengthAdjust="spacingAndGlyphs">00:30</text>
<text transform="translate(100.2,397) rotate(-90)" textLength="25" lengthAdjust="spacingAndGlyphs">01:00</text>
<text transform="translate(113.8,397) rotate(-90)" textLength="25" lengthAdjust="spacingAndGlyphs">01:30</text>
<text transform="translate(127.4,397) rotate(-90)" textLength="25" lengthAdjust="spacingAndGlyphs">02:00</text>
<text transform="translate(141,397) rotate(-90)" textLength="25" lengthAdjust="spacingAndGlyphs">02:30</text>
<text transform="translate(154.6,397) rotate(-90)" textLength="25" lengthAdjust="spacingAndGlyphs">03:00</text>
<text transform="translate(168.2,397) rotate(-90)" textLength="25" lengthAdjust="spacingAndGlyphs">03:30</text>
<text transform="translate(181.8,397) rotate(-90)" textLength="25" lengthAdjust="spacingAndGlyphs">04:00</text>
<text transform="translate(195.4,397) rotate(-90)" textLength="25" lengthAdjust="spacingAndGlyphs">04:30</text>
<text transform="translate(209,397) rotate(-90)" textLength="25" lengthAdjust="spacingAndGlyphs">05:00</text>
<text transform="translate(222.6,397) rotate(-90)" textLength="25" lengthAdjust="spacingAndGlyphs">05:30</text>
<text transform="translate(236.2,397) rotate(-90)" textLength="25" lengthAdjust="spacingAndGlyphs">06:00</text>
<text transform="translate(249.8,397) rotate(-90)" textLength="25" lengthAdjust="spacingAndGlyphs">06:30</text>
<text transform="translate(263.4,397) rotate(-90)" textLength="25" lengthAdjust="spacingAndGlyphs">07:00</text>
<text transform="translate(277,397) rotate(-90)" textLength="25" lengthAdjust="spacingAndGlyphs">07:30</text>
<text transform="translate(290.6,397) rotate(-90)" textLength="25" lengthAdjust="spacingAndGlyphs">08:00</text>
<text transform="translate(304.2,397) rotate(-90)" textLength="25" lengthAdjust="spacingAndGlyphs">08:30</text>
<text transform="translate(317.8,397) rotate(-90)" textLength="25" lengthAdjust="spacingAndGlyphs">09:00</text>
<text transform="translate(331.4,397) rotate(-90)" textLength="25" lengthAdjust="spacingAndGlyphs">09:30</text>
<text transform="translate(345,397) rotate(-90)" textLength="25" lengthAdjust="spacingAndGlyphs">10:00</text>
<text transform="translate(358.6,397) rotate(-90)" textLength="25" lengthAdjust="spacingAndGlyphs">10:30</text>
<text transform="translate(372.2,397) rotate(-90)" textLength="25" lengthAdjust="spacingAndGlyphs">11:00</text>
<text transform="translate(385.8,397) rotate(-90)" textLength="25" lengthAdjust="spacingAndGlyphs">11:30</text>
<text transform="translate(399.4,397) rotate(-90)" textLength="25" lengthAdjust="spacingAndGlyphs">12:00</text>
<text transform="translate(413,397) rotate(-90)" textLength="25" lengthAdjust="spacingAndGlyphs">12:30</text>
<text transform="translate(426.6,397) rotate(-90)" textLength="25" lengthAdjust="spacingAndGlyphs">13:00</text>
<text transform="translate(440.2,397) rotate(-90)" textLength="25" lengthAdjust="spacingAndGlyphs">13:30</text>
<text transform="translate(453.8,397) rotate(-90)" textLength="25" lengthAdjust="spacingAndGlyphs">14:00</text>
<text transform="translate(467.4,397) rotate(-90)" textLength="25" lengthAdjust="spacingAndGlyphs">14:30</text>
<text transform="translate(481,397) rotate(-90)" textLength="25" lengthAdjust="spacingAndGlyphs">15:00</text>
<text transform="translate(494.6,397) rotate(-90)" textLength="25" lengthAdjust="spacingAndGlyphs">15:30</text>
<text transform="translate(508.2,397) rotate(-90)" textLength="25" lengthAdjust="spacingAndGlyphs">16:00</text>
<text transform="translate(521.8,397) rotate(-90)" textLength="25" lengthAdjust="spacingAndGlyphs">16:30</text>
<text transform="translate(535.4,397) rotate(-90)" textLength="25" lengthAdjust="spacingAndGlyphs">17:00</text>
<text transform="translate(549,397) rotate(-90)" textLength="25" lengthAdjust="spacingAndGlyphs">17:30</text>
<text transform="translate(562.6,397) rotate(-90)" textLength="25" lengthAdjust="spacingAndGlyphs">18:00</text>
<text transform="translate(576.2,397) rotate(-90)" textLength="25" lengthAdjust="spacingAndGlyphs">18:30</text>
<text transform="translate(589.8,397) rotate(-90)" textLength="25" lengthAdjust="spacingAndGlyphs">19:00</text>
<text transform="translate(603.4,397) rotate(-90)" textLength="25" lengthAdjust="spacingAndGlyphs">19:30</text>
<text transform="translate(617,397) rotate(-90)" textLength="25" lengthAdjust="spacingAndGlyphs">20:00</text>
<text transform="translate(630.6,397) rotate(-90)" textLength="25" lengthAdjust="spacingAndGlyphs">20:30</text>
<text transform="translate(644.2,397) rotate(-90)" textLength="25" lengthAdjust="spacingAndGlyphs">21:00</text>
<text transform="translate(657.8,397) rotate(-90)" textLength="25" lengthAdjust="spacingAndGlyphs">21:30</text>
<text transform="translate(671.4,397) rotate(-90)" textLength="25" lengthAdjust="spacingAndGlyphs">22:00</text>
<text transform="translate(685,397) rotate(-90)" textLength="25" lengthAdjust="spacingAndGlyphs">22:30</text>
<text transform="translate(698.6,397) rotate(-90)" textLength="25" lengthAdjust="spacingAndGlyphs">23:00</text>
<text transform="translate(712.2,397) rotate(-90)" textLength="25" lengthAdjust="spacingAndGlyphs">23:30</text>
</g>
</svg>
</body></html>
